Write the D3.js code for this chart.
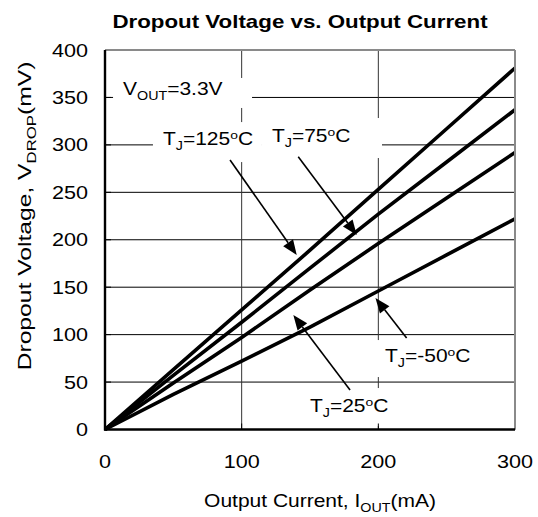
<!DOCTYPE html>
<html>
<head>
<meta charset="utf-8">
<script src="https://cdn.jsdelivr.net/npm/d3@7"></script>
<style>
  html, body { margin: 0; padding: 0; background: #fff; }
  svg { display: block; }
  text { font-family: "Liberation Sans", Arial, sans-serif; fill: #000; }
</style>
</head>
<body>
<svg id="chart" width="538" height="517"></svg>
<script>
// ---- data ----
const currents = [0, 50, 100, 150, 200, 250, 300];           // mA
const vdrop125 = [0, 63, 126, 189, 253, 317, 381];           // mV
const vdrop75  = [0, 57, 113, 170, 227, 282, 337];
const vdrop25  = [0, 49, 97, 147, 196, 244, 292];
const vdropM50 = [0, 37, 72, 108, 146, 184, 222];
const xTicks = [0, 100, 200, 300];
const yTicks = [0, 50, 100, 150, 200, 250, 300, 350, 400];

// annotation labels [x mA, y mV] and arrows [tail, tip] in data units
const labels = [
  { parts: [["V"], ["OUT", "sub"], ["=3.3V"]], at: [13.2, 352.6], box: [-10, 129, -17, 13] },
  { parts: [["T"], ["J", "sub"], ["=125"], ["o", "sup"], ["C"]], at: [42.4, 299.8], box: [-10, 99, -23, 17] },
  { parts: [["T"], ["J", "sub"], ["=75"], ["o", "sup"], ["C"]], at: [122.2, 303], box: [-10, 110, -24, 16] },
  { parts: [["T"], ["J", "sub"], ["=25"], ["o", "sup"], ["C"]], at: [150, 18.4], box: [-10, 85, -24, 14] },
  { parts: [["T"], ["J", "sub"], ["=-50"], ["o", "sup"], ["C"]], at: [204.9, 71.1], box: [-9, 87, -22, 15] }
];
const arrows = [
  [[91.5, 284], [140.3, 183.9]],
  [[141.4, 287.5], [184.2, 205]],
  [[179.3, 41.6], [137.8, 120.7]],
  [[220.7, 96.4], [197.9, 138.6]]
];

const svg = d3.select("#chart");
const x = d3.scaleLinear().domain([0, 300]).range([105, 515]);
const y = d3.scaleLinear().domain([0, 400]).range([429.5, 50]);
const SX = 1.2; // horizontal text stretch

function addText(g, px, py, parts, opt) {
  opt = opt || {};
  const fs = opt.fs || 18;
  const t = g.append("text")
    .attr("transform", `translate(${px},${py}) ${opt.rotate ? "rotate(-90) " : ""}scale(${opt.sx || SX},1)`)
    .attr("font-size", fs)
    .attr("text-anchor", opt.anchor || "start")
    .attr("font-weight", opt.bold ? "bold" : null);
  let shift = 0;
  parts.forEach(p => {
    const s = t.append("tspan").text(p[0]);
    let target = 0;
    if (p[1] === "sub") { s.attr("font-size", fs * 0.68); target = fs * 0.3; }
    else if (p[1] === "sup") { s.attr("font-size", fs * 0.66); target = -fs * 0.33; }
    if (target !== shift) { s.attr("dy", target - shift); shift = target; }
  });
  return t;
}

// gridlines
const grid = svg.append("g").attr("stroke-width", 1);
grid.selectAll("line.h").data(yTicks.filter(d => d > 0 && d < 400)).join("line")
  .attr("x1", x(0)).attr("x2", x(300))
  .attr("y1", d => y(d)).attr("y2", d => y(d)).attr("stroke", "#000");
grid.selectAll("line.v").data(xTicks.filter(d => d > 0 && d < 300)).join("line")
  .attr("x1", d => x(d)).attr("x2", d => x(d))
  .attr("y1", y(0)).attr("y2", y(400)).attr("stroke", "#333");

// white label boxes
svg.append("g").selectAll("rect").data(labels).join("rect")
  .attr("x", d => x(d.at[0]) + d.box[0])
  .attr("y", d => y(d.at[1]) + d.box[2])
  .attr("width", d => d.box[1] - d.box[0])
  .attr("height", d => d.box[3] - d.box[2])
  .attr("fill", "#fff");

// ticks (inner)
const ticks = svg.append("g").attr("stroke", "#000").attr("stroke-width", 1);
ticks.selectAll("line.yt").data(yTicks).join("line")
  .attr("x1", x(0)).attr("x2", x(0) + 6).attr("y1", d => y(d)).attr("y2", d => y(d));
ticks.selectAll("line.xt").data(xTicks).join("line")
  .attr("x1", d => x(d)).attr("x2", d => x(d)).attr("y1", y(0)).attr("y2", y(0) - 6);

// series lines
const series = [vdrop125, vdrop75, vdrop25, vdropM50];
const line = d3.line().x((d, i) => x(currents[i])).y(d => y(d));
svg.append("g").selectAll("path").data(series).join("path")
  .attr("d", d => line(d))
  .attr("fill", "none").attr("stroke", "#000").attr("stroke-width", 3.6)
  .attr("stroke-linejoin", "round");

// frame
svg.append("line").attr("x1", x(0)).attr("x2", x(300)).attr("y1", y(400)).attr("y2", y(400))
  .attr("stroke", "#8a8a8a").attr("stroke-width", 2);
svg.append("line").attr("x1", x(300)).attr("x2", x(300)).attr("y1", y(0)).attr("y2", y(400))
  .attr("stroke", "#8a8a8a").attr("stroke-width", 2);
svg.append("line").attr("x1", x(0)).attr("x2", x(0)).attr("y1", y(0) + 1).attr("y2", y(400))
  .attr("stroke", "#000").attr("stroke-width", 2.4);
svg.append("line").attr("x1", x(0) - 1).attr("x2", x(300)).attr("y1", y(0)).attr("y2", y(0))
  .attr("stroke", "#000").attr("stroke-width", 2.4);

// arrows
const ag = svg.append("g");
arrows.forEach(a => {
  const x1 = x(a[0][0]), y1 = y(a[0][1]), x2 = x(a[1][0]), y2 = y(a[1][1]);
  const ang = Math.atan2(y2 - y1, x2 - x1);
  const L = 15, W = 6;
  const bx = x2 - L * Math.cos(ang), by = y2 - L * Math.sin(ang);
  ag.append("line").attr("x1", x1).attr("y1", y1).attr("x2", bx).attr("y2", by)
    .attr("stroke", "#000").attr("stroke-width", 1.6);
  const px = -Math.sin(ang), py = Math.cos(ang);
  ag.append("path")
    .attr("d", `M${x2},${y2}L${bx + W * px},${by + W * py}L${bx - W * px},${by - W * py}Z`)
    .attr("fill", "#000");
});

// labels
labels.forEach(l => addText(svg, x(l.at[0]), y(l.at[1]), l.parts, { fs: 17.5 }));

// tick labels
yTicks.forEach(d => addText(svg, 88, y(d) + 6.5, [[String(d)]], { anchor: "end", fs: 18 }));
xTicks.forEach(d => addText(svg, x(d), 468, [[String(d)]], { anchor: "middle", fs: 18 }));

// title & axis titles
addText(svg, 300, 28, [["Dropout Voltage vs. Output Current"]], { anchor: "middle", fs: 18, bold: true, sx: 1.24 });
addText(svg, 320, 507, [["Output Current, I"], ["OUT", "sub"], ["(mA)"]], { anchor: "middle", fs: 17.5 });
addText(svg, 31, 216, [["Dropout Voltage, V"], ["DROP", "sub"], ["(mV)"]], { anchor: "middle", fs: 18, rotate: true, sx: 1.37 });
</script>
</body>
</html>
